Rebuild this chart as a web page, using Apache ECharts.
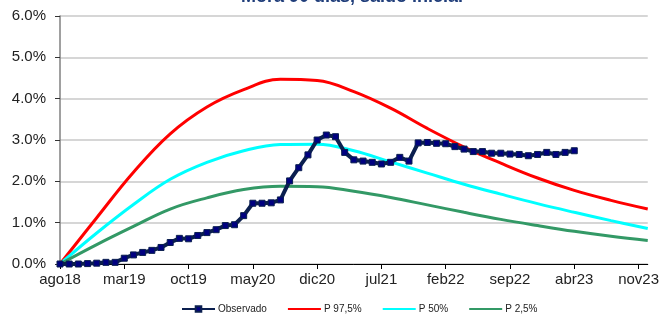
<!DOCTYPE html>
<html>
<head>
<meta charset="utf-8">
<script src="https://cdn.jsdelivr.net/npm/echarts@6/dist/echarts.min.js"></script>
<style>
html,body{margin:0;padding:0;background:#fff;}
#chart{width:662px;height:318px;}
</style>
</head>
<body>
<div id="chart"></div>
<script>
// Month names (tick labels are every 7th month)
var monthNames = ['ene','feb','mar','abr','may','jun','jul','ago','sep','oct','nov','dic'];
var startMonth = 7;   // ago
var startYear = 18;
var monthCount = 65;  // ago18 .. dic23

// Observado: monthly values from ago18 to abr23 (%)
var observado = [0.00,0.00,0.00,0.01,0.02,0.04,0.04,0.14,0.22,0.28,
                 0.33,0.40,0.52,0.62,0.61,0.69,0.76,0.83,0.93,0.95,
                 1.17,1.47,1.47,1.48,1.55,2.01,2.33,2.64,3.00,3.12,
                 3.08,2.70,2.52,2.49,2.46,2.42,2.46,2.58,2.49,2.93,
                 2.94,2.92,2.91,2.84,2.78,2.72,2.72,2.68,2.68,2.66,
                 2.65,2.62,2.65,2.70,2.65,2.70,2.74];

// Projection curves, read every 4 months (index from ago18)
var curveMonths = [0,4,8,12,16,20,24,28,32,36,40,44,48,52,56,60,64];
var p975 = [0,1.12,2.22,3.15,3.80,4.22,4.47,4.44,4.17,3.77,3.28,2.83,2.44,2.08,1.78,1.54,1.33];
var p50  = [0,0.75,1.44,2.05,2.46,2.74,2.89,2.90,2.74,2.47,2.20,1.93,1.69,1.46,1.25,1.05,0.86];
var p25  = [0,0.47,0.91,1.33,1.60,1.80,1.88,1.87,1.76,1.61,1.43,1.25,1.08,0.93,0.79,0.67,0.57];

var titleText = 'Mora 90 días, saldo inicial';
var legendNames = ['Observado', 'P 97,5%', 'P 50%', 'P 2,5%'];

var categories = [];
for (var i = 0; i < monthCount; i++) {
  var mi = (startMonth + i) % 12;
  var yy = startYear + Math.floor((startMonth + i) / 12);
  categories.push(monthNames[mi] + yy);
}
function pairs(xs, ys) { return xs.map(function (x, k) { return [x, ys[k]]; }); }

var FONT = '"Liberation Sans", Arial, sans-serif';
var chart = echarts.init(document.getElementById('chart'));
chart.setOption({
  animation: false,
  backgroundColor: '#ffffff',
  title: {
    text: titleText,
    left: 347, textAlign: 'center',
    top: -17,
    textStyle: { fontFamily: FONT, fontSize: 18, fontWeight: 'bold', color: '#1F3D7A' }
  },
  grid: { left: 60, right: 11, top: 16, bottom: 54, containLabel: false },
  legend: {
    bottom: -1, left: 176,
    itemWidth: 33, itemHeight: 7, itemGap: 20,
    textStyle: { fontFamily: FONT, fontSize: 10, color: '#222', padding: [0,0,0,-2] },
    data: [
      { name: legendNames[0] },
      { name: legendNames[1], itemStyle: { opacity: 0 } },
      { name: legendNames[2], itemStyle: { opacity: 0 } },
      { name: legendNames[3], itemStyle: { opacity: 0 } }
    ]
  },
  xAxis: {
    type: 'category',
    data: categories,
    boundaryGap: false,
    axisLine: { lineStyle: { color: '#000', width: 1 } },
    axisTick: { interval: 6, length: 5, lineStyle: { color: '#000' } },
    axisLabel: { interval: 6, fontFamily: FONT, fontSize: 15, color: '#222', margin: 8 },
    splitLine: { show: false }
  },
  yAxis: {
    type: 'value',
    min: 0, max: 6, interval: 1,
    axisLine: { show: true, lineStyle: { color: '#808080', width: 1.5 } },
    axisTick: { show: true, length: 5, lineStyle: { color: '#333' } },
    axisLabel: { formatter: function (v) { return v.toFixed(1) + '%'; }, fontFamily: FONT, fontSize: 15, color: '#222', margin: 14 },
    splitLine: { lineStyle: { color: '#C8C8C8', width: 1.5 } }
  },
  series: [
    {
      name: legendNames[1], type: 'line', data: pairs(curveMonths, p975), smooth: 0.4,
      symbol: 'none', lineStyle: { color: '#FF0000', width: 3 }, itemStyle: { color: '#FF0000' }, z: 2
    },
    {
      name: legendNames[2], type: 'line', data: pairs(curveMonths, p50), smooth: 0.4,
      symbol: 'none', lineStyle: { color: '#00FFFF', width: 3 }, itemStyle: { color: '#00FFFF' }, z: 2
    },
    {
      name: legendNames[3], type: 'line', data: pairs(curveMonths, p25), smooth: 0.4,
      symbol: 'none', lineStyle: { color: '#339966', width: 3 }, itemStyle: { color: '#339966' }, z: 2
    },
    {
      name: legendNames[0], type: 'line', data: observado,
      symbol: 'rect', symbolSize: 6, showAllSymbol: true,
      lineStyle: { color: '#0B1F4F', width: 4 },
      itemStyle: { color: '#000080', borderColor: '#0B1F4F', borderWidth: 1 }, z: 3
    }
  ]
});
</script>
</body>
</html>
